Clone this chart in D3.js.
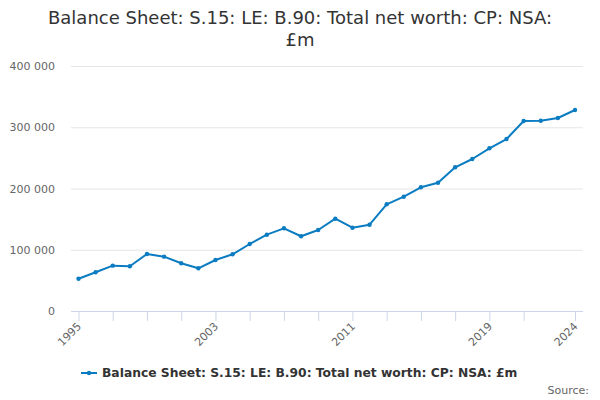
<!DOCTYPE html>
<html>
<head>
<meta charset="utf-8">
<script src="https://cdn.jsdelivr.net/npm/d3@7"></script>
<style>
  body { margin: 0; background: #fff; }
  svg { font-family: "DejaVu Sans", sans-serif; }
</style>
</head>
<body>
<div id="chart"></div>
<script>
// data
const years = d3.range(1995, 2025);
const netWorth = [
  52700, 63200, 74000, 73000, 93100, 88700, 77900, 69700, 83300, 92600,
  109400, 124600, 135000, 122000, 132200, 150700, 136000, 140900, 174200, 186600,
  202000, 209500, 234600, 248200, 265600, 280800, 310200, 310700, 315100, 328200
];
const yTicks = [0, 100000, 200000, 300000, 400000];
const xTickYears = [1995, 1997, 1999, 2001, 2003, 2005, 2007, 2009, 2011, 2013, 2015, 2017, 2019, 2021, 2024];
const xLabelYears = [1995, 2003, 2011, 2019, 2024];
const titleLines = ['Balance Sheet: S.15: LE: B.90: Total net worth: CP: NSA:', '£m'];
const seriesName = 'Balance Sheet: S.15: LE: B.90: Total net worth: CP: NSA: £m';

const width = 600, height = 400;
const plot = { left: 71, right: 583, top: 66, bottom: 311 };
const lineColor = '#0b7cc1';

const svg = d3.select('#chart').append('svg')
  .attr('width', width)
  .attr('height', height);

// title
svg.append('text')
  .attr('x', width / 2)
  .attr('y', 24)
  .attr('text-anchor', 'middle')
  .style('font-size', '18px')
  .style('fill', '#333')
  .selectAll('tspan')
  .data(titleLines)
  .enter()
  .append('tspan')
  .attr('x', width / 2)
  .attr('dy', (d, i) => i === 0 ? 0 : 22)
  .text(d => d);

const x = d3.scaleLinear().domain([1995, 2024]).range([78.5, 575]);
const y = d3.scaleLinear().domain([0, 400000]).range([plot.bottom, plot.top]);

// y grid + labels
const fmt = v => d3.format(',')(v).replace(/,/g, ' ');
const yAxis = svg.append('g')
  .attr('transform', `translate(${plot.left}, 0)`)
  .call(d3.axisLeft(y).tickValues(yTicks).tickSize(-(plot.right - plot.left)).tickFormat(fmt).tickPadding(16));
yAxis.select('.domain').remove();
yAxis.selectAll('.tick line').attr('stroke', '#e6e6e6');
yAxis.selectAll('.tick text')
  .style('font-size', '11px')
  .style('fill', '#666')
  .style('font-family', '"DejaVu Sans", sans-serif');

// x axis
const xAxis = svg.append('g')
  .attr('transform', `translate(0, ${plot.bottom})`)
  .call(d3.axisBottom(x).tickValues(xTickYears).tickSize(10)
    .tickFormat(d => xLabelYears.includes(d) ? d : ''));
xAxis.select('.domain')
  .attr('d', `M${plot.left},0.5H${plot.right}`)
  .attr('stroke', '#ccd6eb');
xAxis.selectAll('.tick line').attr('stroke', '#ccd6eb');
xAxis.selectAll('.tick text')
  .style('font-size', '11px')
  .style('fill', '#666')
  .style('font-family', '"DejaVu Sans", sans-serif')
  .attr('text-anchor', 'end')
  .attr('y', 0)
  .attr('dy', 0)
  .attr('transform', 'translate(3, 16) rotate(-45)');

// line
const pts = years.map((yr, i) => ({ yr, v: netWorth[i] }));
svg.append('path')
  .datum(pts)
  .attr('fill', 'none')
  .attr('stroke', lineColor)
  .attr('stroke-width', 2)
  .attr('stroke-linejoin', 'round')
  .attr('d', d3.line().x(d => x(d.yr)).y(d => y(d.v)));

svg.append('g').selectAll('circle')
  .data(pts)
  .enter()
  .append('circle')
  .attr('cx', d => x(d.yr))
  .attr('cy', d => y(d.v))
  .attr('r', 2.2)
  .attr('fill', lineColor);

// legend
const legend = svg.append('g').attr('transform', 'translate(81, 373)');
legend.append('line')
  .attr('x1', 0).attr('x2', 16)
  .attr('stroke', lineColor).attr('stroke-width', 2);
legend.append('circle').attr('cx', 8).attr('r', 2.2).attr('fill', lineColor);
legend.append('text')
  .attr('x', 21)
  .attr('dy', '0.35em')
  .style('font-size', '12.3px')
  .style('font-weight', 'bold')
  .style('fill', '#333')
  .text(seriesName);

// source
svg.append('text')
  .attr('x', 589)
  .attr('y', 394)
  .attr('text-anchor', 'end')
  .style('font-size', '11px')
  .style('fill', '#666')
  .text('Source:');
</script>
</body>
</html>
